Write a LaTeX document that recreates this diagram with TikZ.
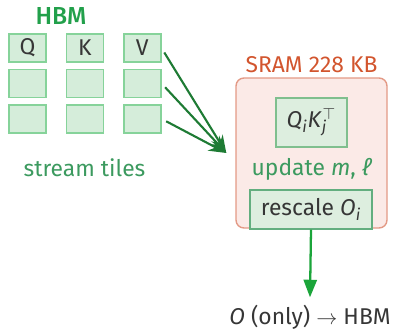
\documentclass[tikz,border=0pt]{standalone}
\usepackage{fontspec}
\setmainfont{Fira Sans}[BoldFont={Fira Sans Medium}]
\usetikzlibrary{arrows.meta,positioning,calc}
\definecolor{hbmgreen}{HTML}{22A04B}
\definecolor{tilefill}{HTML}{D5EDDA}
\definecolor{tiledraw}{HTML}{86D39A}
\definecolor{ink}{HTML}{363636}
\definecolor{feedgreen}{HTML}{1E7B34}
\definecolor{sramfill}{HTML}{FBEAE7}
\definecolor{sramdraw}{HTML}{E39A86}
\definecolor{sramtext}{HTML}{D2552E}
\definecolor{opfill}{HTML}{DDEEDF}
\definecolor{opdraw}{HTML}{7FBF8E}
\definecolor{labgreen}{HTML}{3C9A5F}
\definecolor{outgreen}{HTML}{1BA53A}
\tikzset{
  tile/.style={rectangle, draw=tiledraw, fill=tilefill, thick,
    minimum width=0.74cm, minimum height=0.56cm, inner sep=0pt,
    text=ink, font=\fontsize{13}{15}\selectfont},
  sramblock/.style={rectangle, rounded corners=0.16cm, draw=sramdraw,
    fill=sramfill, thick, minimum width=3.02cm, minimum height=3.0cm},
  opbox/.style={rectangle, draw=opdraw, fill=opfill, thick, inner sep=0pt,
    text=ink, font=\fontsize{13}{15}\selectfont},
  tag/.style={inner sep=0pt, anchor=base, text=#1,
    font=\fontsize{13}{15}\selectfont},
  tag/.default=ink,
  feed/.style={-{Stealth[length=10pt,width=7.5pt]}, line width=1.2pt,
    color=feedgreen, shorten <=3pt},
  writeback/.style={-{Triangle[length=10pt,width=7.5pt]}, line width=1.3pt,
    color=outgreen},
}

\begin{document}
\begin{tikzpicture}[node distance=0.12cm and 0.38cm]
\useasboundingbox (0,0) rectangle (7.96,-6.64);
\node[tag=hbmgreen, font=\fontsize{14}{16}\selectfont\bfseries] (hbm) at (1.22,-0.50) {HBM};
\node[tile] (q1) at (0.55,-0.96) {Q};
\node[tile, right=of q1] (k1) {K};
\node[tile, right=of k1] (v1) {V};
\node[tile, below=of q1] (q2) {};
\node[tile, below=of k1] (k2) {};
\node[tile, below=of v1] (v2) {};
\node[tile, below=of q2] (q3) {};
\node[tile, below=of k2] (k3) {};
\node[tile, below=of v2] (v3) {};
\node[tag=labgreen] (stream) at (1.69,-3.54) {stream tiles};
\node[sramblock] (sram) at (6.23,-3.06) {};
\node[tag=sramtext, anchor=south, above=0.08cm of sram] (sramlab) {SRAM 228 KB};
\node[opbox, minimum width=1.42cm, minimum height=0.98cm] (qk) at (6.23,-2.45)
  {\textit{Q}\textsubscript{\textit{i}}\textit{K}\textsubscript{\textit{j}}\kern-0.2em$^{\top}$};
\node[tag=labgreen] (upd) at (6.24,-3.50) {update \textit{m}, \textit{ℓ}};
\node[opbox, draw=labgreen!80, minimum width=2.44cm, minimum height=0.78cm] (resc) at (6.22,-4.19)
  {rescale \textit{O}\textsubscript{\textit{i}}};
\coordinate[left=0.18cm of sram.west] (sramin);
\node[tag] (out) at (6.20,-6.48) {\textit{O} (only) $\rightarrow$ HBM};
\draw[feed] (v1.east) -- (sramin);
\draw[feed] (v2.east) -- (sramin);
\draw[feed] (v3.east) -- (sramin);
\draw[writeback] (resc.south) -- ([yshift=0.14cm]out.north);
\end{tikzpicture}
\end{document}
